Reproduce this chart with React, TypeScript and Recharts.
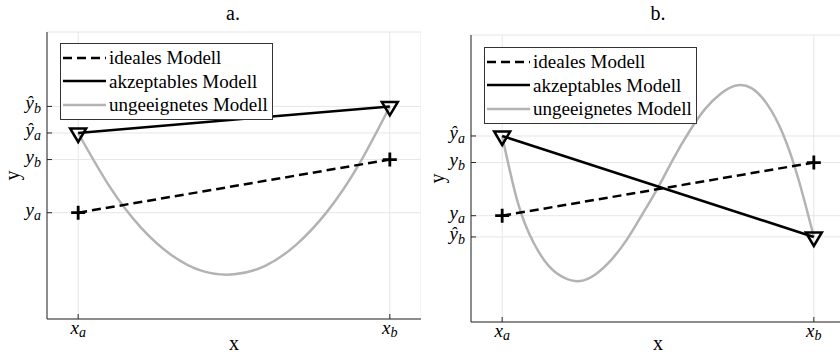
import React from "react";
import { LineChart, Line, XAxis, YAxis, CartesianGrid, Legend } from "recharts";

const FONT = '"Liberation Serif", "DejaVu Serif", serif';
const AXIS = "#262626";
const GRID = "#e6e6e6";
const GRAY = "#b3b3b3";

// x positions of the two anchor points x_a, x_b
const xAnchors = [0, 1];
const xSubs = ["a", "b"];

const seriesNames = ["ideales Modell", "akzeptables Modell", "ungeeignetes Modell"];
const seriesColors = ["#000", "#000", GRAY];
const seriesDash = ["9 5", undefined, undefined];

// panel a.
const idealA = [0, 1];
const acceptA = [1.5, 2];
const curveAx = [0, 0.1, 0.2, 0.3, 0.4, 0.5, 0.6, 0.7, 0.8, 0.9, 1];
const curveAy = [1.5, 0.5, -0.27, -0.8, -1.1, -1.16, -1.0, -0.6, 0.03, 0.9, 2];
const yTicksA = [0, 1, 1.5, 2];
const yLabelsA = [["y", "a"], ["y", "b"], ["ŷ", "a"], ["ŷ", "b"]];

// panel b.
const idealB = [0, 1];
const acceptB = [1.5, -0.4];
const curveBx = [0, 0.05, 0.1, 0.15, 0.2, 0.25, 0.3, 0.35, 0.4, 0.45, 0.5, 0.55, 0.6, 0.65, 0.7, 0.75, 0.8, 0.85, 0.9, 0.95, 1];
const curveBy = [1.5, 0.25, -0.5, -0.95, -1.17, -1.23, -1.1, -0.83, -0.45, 0.03, 0.53, 1.08, 1.58, 2.0, 2.29, 2.45, 2.4, 2.1, 1.55, 0.7, -0.4];
const yTicksB = [-0.4, 0, 1, 1.5];
const yLabelsB = [["ŷ", "b"], ["y", "a"], ["y", "b"], ["ŷ", "a"]];

const toPts = (xs: number[], ys: number[]) => xs.map((x, i) => ({ x, y: ys[i] }));

const Plus = (p: any) => (
  <path
    key={"p" + p.index}
    d={`M${p.cx - 7},${p.cy}h14M${p.cx},${p.cy - 7}v14`}
    stroke="#000"
    strokeWidth={2.8}
    fill="none"
  />
);

const Tri = (p: any) => (
  <path
    key={"t" + p.index}
    d={`M${p.cx - 8},${p.cy - 4.5}h16L${p.cx},${p.cy + 9}Z`}
    stroke="#000"
    strokeWidth={2.5}
    fill="none"
  />
);

const XTick = (props: any) => {
  const { x, y, payload } = props;
  const i = xAnchors.indexOf(payload.value);
  return (
    <g>
      <line x1={x} x2={x} y1={y} y2={y - 5} stroke={AXIS} />
      <text x={x} y={y + 15} textAnchor="middle" fontFamily={FONT} fontStyle="italic" fontSize={19} fill="#000">
        x<tspan fontSize={14} dy={3}>{xSubs[i]}</tspan>
      </text>
    </g>
  );
};

const makeYTick = (ticks: number[], labels: string[][]) => (props: any) => {
  const { x, y, payload } = props;
  const i = ticks.indexOf(payload.value);
  const [base, sub] = labels[i] || ["", ""];
  return (
    <g>
      <line x1={x} x2={x + 5} y1={y} y2={y} stroke={AXIS} />
      <text x={x - 6} y={y + 3} textAnchor="end" fontFamily={FONT} fontStyle="italic" fontSize={19} fill="#000">
        {base}
        <tspan fontSize={14} dy={4}>{sub}</tspan>
      </text>
    </g>
  );
};

const YLab = (props: any) => {
  const vb = props.viewBox || {};
  const cx = props.cx;
  const cy = vb.y + vb.height / 2;
  return (
    <text x={cx} y={cy} transform={`rotate(-90 ${cx} ${cy})`} textAnchor="middle" dominantBaseline="central" fontFamily={FONT} fontSize={20} fill="#000">
      y
    </text>
  );
};

const LegendBox = () => (
  <div
    style={{
      border: "1px solid #333",
      background: "#fff",
      padding: "2px 4px 2px 1px",
      fontFamily: FONT,
      fontSize: 19,
      lineHeight: "23.5px",
      whiteSpace: "nowrap",
      color: "#000",
    }}
  >
    {seriesNames.map((name, i) => (
      <div key={name} style={{ display: "flex", alignItems: "center" }}>
        <svg width={45} height={10} style={{ marginRight: 2 }}>
          <line x1={1} x2={44} y1={5} y2={5} stroke={seriesColors[i]} strokeWidth={2.5} strokeDasharray={seriesDash[i]} />
        </svg>
        <span>{name}</span>
      </div>
    ))}
  </div>
);

type PanelProps = {
  title: string;
  ideal: number[];
  accept: number[];
  cx: number[];
  cy: number[];
  yTicks: number[];
  yLabels: string[][];
  width: number;
  top: number;
  yWidth: number;
  xHeight: number;
  legendPos: { left: number; top: number };
  yLabX: number;
  titleX: number;
};

const Panel = (p: PanelProps) => {
  const YTick = makeYTick(p.yTicks, p.yLabels);
  return (
    <div style={{ position: "relative", width: p.width, height: 355 }}>
      <div
        style={{
          position: "absolute",
          left: p.titleX - 30,
          width: 60,
          top: 2,
          textAlign: "center",
          fontFamily: FONT,
          fontSize: 20,
          lineHeight: "22px",
          color: "#000",
        }}
      >
        {p.title}
      </div>
      <LineChart width={p.width} height={355} margin={{ top: p.top, right: 0, bottom: 0, left: 0 }}>
        <CartesianGrid stroke={GRID} />
        <XAxis
          type="number"
          dataKey="x"
          domain={[-0.1, 1.1]}
          ticks={xAnchors}
          allowDataOverflow
          height={p.xHeight}
          axisLine={{ stroke: AXIS }}
          tickLine={false}
          tickSize={0}
          tickMargin={0}
          tick={<XTick />}
          interval={0}
          label={{ value: "x", position: "insideBottom", offset: 5, fontFamily: FONT, fontSize: 20, fill: "#000" }}
        />
        <XAxis
          xAxisId="top"
          orientation="top"
          type="number"
          domain={[-0.1, 1.1]}
          ticks={xAnchors}
          height={0}
          mirror
          tick={false}
          tickSize={5}
          tickLine={{ stroke: AXIS }}
          axisLine={{ stroke: AXIS }}
        />
        <YAxis
          type="number"
          domain={[-2, 3.4]}
          ticks={p.yTicks}
          allowDataOverflow
          width={p.yWidth}
          axisLine={{ stroke: AXIS }}
          tickLine={false}
          tickSize={0}
          tickMargin={0}
          tick={<YTick />}
          interval={0}
          label={<YLab cx={p.yLabX} />}
        />
        <YAxis
          yAxisId="right"
          orientation="right"
          type="number"
          domain={[-2, 3.4]}
          ticks={p.yTicks}
          width={0}
          mirror
          tick={false}
          tickSize={5}
          tickLine={{ stroke: AXIS }}
          axisLine={{ stroke: AXIS }}
        />
        <Line
          data={toPts(p.cx, p.cy)}
          dataKey="y"
          name={seriesNames[2]}
          type="natural"
          stroke={GRAY}
          strokeWidth={2.5}
          dot={false}
          isAnimationActive={false}
        />
        <Line
          data={toPts(xAnchors, p.ideal)}
          dataKey="y"
          name={seriesNames[0]}
          type="linear"
          stroke="#000"
          strokeWidth={2.5}
          strokeDasharray="9 5"
          dot={Plus}
          isAnimationActive={false}
        />
        <Line
          data={toPts(xAnchors, p.accept)}
          dataKey="y"
          name={seriesNames[1]}
          type="linear"
          stroke="#000"
          strokeWidth={2.5}
          dot={Tri}
          isAnimationActive={false}
        />
        <Legend
          layout="vertical"
          align="center"
          verticalAlign="middle"
          content={<LegendBox />}
          wrapperStyle={{ left: p.legendPos.left, top: p.legendPos.top, width: "auto" }}
        />
      </LineChart>
    </div>
  );
};

export default function App() {
  return (
    <div style={{ position: "fixed", left: 0, top: 0, width: 840, height: 355, overflow: "hidden", background: "#fff" }}>
      <div style={{ position: "absolute", left: 0, top: 0 }}>
        <Panel
          title="a."
          ideal={idealA}
          accept={acceptA}
          cx={curveAx}
          cy={curveAy}
          yTicks={yTicksA}
          yLabels={yLabelsA}
          width={421}
          top={32}
          yWidth={47}
          xHeight={36}
          legendPos={{ left: 60, top: 43 }}
          yLabX={12}
          titleX={233}
        />
      </div>
      <div style={{ position: "absolute", left: 420, top: 0 }}>
        <Panel
          title="b."
          ideal={idealB}
          accept={acceptB}
          cx={curveBx}
          cy={curveBy}
          yTicks={yTicksB}
          yLabels={yLabelsB}
          width={425}
          top={35}
          yWidth={51}
          xHeight={33}
          legendPos={{ left: 64, top: 47 }}
          yLabX={17}
          titleX={238}
        />
      </div>
    </div>
  );
}
